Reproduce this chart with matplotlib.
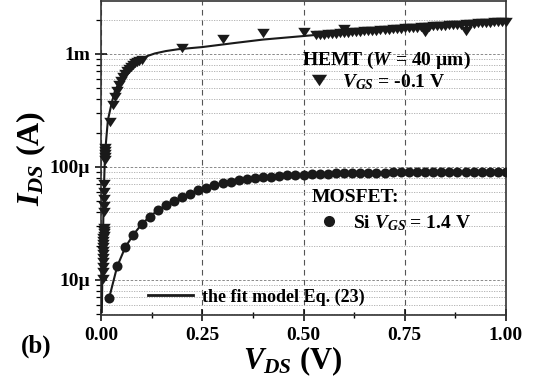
import matplotlib
matplotlib.use("Agg")
import matplotlib.pyplot as plt
from matplotlib.ticker import FixedLocator, FixedFormatter, MultipleLocator, LogLocator, NullFormatter
from matplotlib.lines import Line2D

plt.rcParams['font.family'] = ['Liberation Serif', 'DejaVu Serif']
plt.rcParams['font.weight'] = 'bold'
plt.rcParams['mathtext.fontset'] = 'custom'
plt.rcParams['mathtext.it'] = 'Liberation Serif:italic:bold'
plt.rcParams['mathtext.rm'] = 'Liberation Serif:bold'
plt.rcParams['mathtext.bf'] = 'Liberation Serif:bold'

# ---------------- data ----------------
# HEMT measured points (V, A)
hemt_v = [0.0040, 0.0042, 0.0044, 0.0046, 0.0048, 0.0050, 0.0052, 0.0054, 0.0056, 0.0058,
          0.0060, 0.0062, 0.0064, 0.0066, 0.0068, 0.0070, 0.0072, 0.0075, 0.0078, 0.0080,
          0.0090, 0.0093, 0.0096, 0.0100, 0.0104,
          0.022, 0.030, 0.035, 0.040, 0.045, 0.050, 0.055, 0.060, 0.065, 0.070,
          0.075, 0.080, 0.085, 0.090, 0.095, 0.100,
          0.20, 0.30, 0.40, 0.50,
          0.53, 0.54, 0.55, 0.56, 0.57, 0.58, 0.59, 0.60, 0.61, 0.62, 0.63, 0.64,
          0.65, 0.66, 0.67, 0.68, 0.69, 0.70, 0.71, 0.72, 0.73, 0.74, 0.75, 0.76,
          0.77, 0.78, 0.79, 0.80, 0.81, 0.82, 0.83, 0.84, 0.85, 0.86, 0.87, 0.88,
          0.89, 0.90, 0.91, 0.92, 0.93, 0.94, 0.95, 0.96, 0.97, 0.98, 0.99, 1.00,
          0.60, 0.80, 0.90]
hemt_i = [10.2e-6, 11.8e-6, 13.0e-6, 14.3e-6, 15.6e-6, 16.9e-6, 18.2e-6, 19.5e-6, 20.8e-6, 22.1e-6,
          23.4e-6, 24.7e-6, 26.0e-6, 27.3e-6, 28.6e-6, 40e-6, 45e-6, 52e-6, 60e-6, 70e-6,
          115e-6, 122e-6, 130e-6, 138e-6, 146e-6,
          250e-6, 355e-6, 420e-6, 470e-6, 530e-6, 580e-6, 620e-6, 660e-6, 700e-6, 730e-6,
          770e-6, 800e-6, 830e-6, 850e-6, 870e-6, 890e-6,
          1.13e-3, 1.36e-3, 1.53e-3, 1.57e-3,
          1.46e-3, 1.47e-3, 1.48e-3, 1.49e-3, 1.50e-3, 1.51e-3, 1.52e-3, 1.53e-3, 1.54e-3, 1.55e-3, 1.56e-3, 1.57e-3,
          1.58e-3, 1.59e-3, 1.60e-3, 1.61e-3, 1.62e-3, 1.63e-3, 1.64e-3, 1.65e-3, 1.66e-3, 1.67e-3, 1.68e-3, 1.69e-3,
          1.70e-3, 1.71e-3, 1.72e-3, 1.73e-3, 1.74e-3, 1.75e-3, 1.76e-3, 1.77e-3, 1.78e-3, 1.79e-3, 1.80e-3, 1.81e-3,
          1.82e-3, 1.83e-3, 1.84e-3, 1.85e-3, 1.86e-3, 1.87e-3, 1.88e-3, 1.89e-3, 1.90e-3, 1.91e-3, 1.92e-3, 1.93e-3,
          1.66e-3, 1.57e-3, 1.58e-3]

# HEMT fit model curve
fit_v = [0.002, 0.004, 0.006, 0.008, 0.010, 0.017, 0.027, 0.035, 0.052, 0.077,
         0.100, 0.115, 0.133, 0.160, 0.190, 0.250, 0.330, 0.400, 0.500, 0.600, 0.700,
         0.800, 0.900, 1.000]
fit_i = [5.2e-6, 15e-6, 40e-6, 80e-6, 133e-6, 260e-6, 376e-6, 478e-6, 625e-6, 800e-6,
         0.90e-3, 0.96e-3, 1.01e-3, 1.06e-3, 1.10e-3, 1.15e-3, 1.25e-3, 1.34e-3, 1.44e-3, 1.55e-3, 1.67e-3,
         1.78e-3, 1.90e-3, 2.02e-3]

# MOSFET measured points
mos_v = [0.02, 0.04, 0.06, 0.08, 0.10, 0.12, 0.14, 0.16, 0.18, 0.20,
         0.22, 0.24, 0.26, 0.28, 0.30, 0.32, 0.34, 0.36, 0.38, 0.40,
         0.42, 0.44, 0.46, 0.48, 0.50, 0.52, 0.54, 0.56, 0.58, 0.60,
         0.62, 0.64, 0.66, 0.68, 0.70, 0.72, 0.74, 0.76, 0.78, 0.80,
         0.82, 0.84, 0.86, 0.88, 0.90, 0.92, 0.94, 0.96, 0.98, 1.00]
mos_i_uA = [6.9, 13.2, 19.5, 25.2, 31.0, 36.3, 41.2, 45.8, 50.0, 54.0,
            57.8, 62.5, 65.8, 68.8, 71.5, 74.0, 76.2, 78.0, 79.6, 81.0,
            82.2, 83.2, 84.1, 84.9, 85.6, 86.2, 86.7, 87.2, 87.6, 88.0,
            88.3, 88.6, 88.9, 89.1, 89.3, 89.5, 89.7, 89.8, 90.0, 90.1,
            90.2, 90.3, 90.4, 90.5, 90.6, 90.7, 90.8, 90.9, 91.0, 91.1]
mos_i = [v * 1e-6 for v in mos_i_uA]

y_major = [1e-5, 1e-4, 1e-3]
y_major_labels = ['10\u00b5', '100\u00b5', '1m']
x_major = [0.00, 0.25, 0.50, 0.75, 1.00]
x_major_labels = ['0.00', '0.25', '0.50', '0.75', '1.00']

# ---------------- figure ----------------
W, H = 543, 379
fig = plt.figure(figsize=(W / 100, H / 100), dpi=100)
ax = fig.add_axes([101 / W, 1 - 315 / H, 405 / W, 314 / H])
ink = '#1a1a1a'
tri = [(-1, 0.75), (1, 0.75), (0, -0.75)]

ax.set_yscale('log')
ax.set_xlim(0, 1.0)
ax.set_ylim(4.9e-6, 2.94e-3)

ax.yaxis.set_major_locator(FixedLocator(y_major))
ax.yaxis.set_major_formatter(FixedFormatter(y_major_labels))
ax.yaxis.set_minor_locator(LogLocator(base=10, subs=range(2, 10)))
ax.yaxis.set_minor_formatter(NullFormatter())
ax.xaxis.set_major_locator(FixedLocator(x_major))
ax.xaxis.set_major_formatter(FixedFormatter(x_major_labels))
ax.xaxis.set_minor_locator(MultipleLocator(0.125))

ax.grid(True, which='major', axis='x', color='#555555', linestyle=(0, (5, 4)), linewidth=0.8)
ax.grid(True, which='major', axis='y', color='#777777', linestyle=(0, (3, 2)), linewidth=0.6)
ax.grid(True, which='minor', axis='y', color='#aaaaaa', linestyle=(0, (1.5, 1.5)), linewidth=0.6)
ax.set_axisbelow(True)

# data
ax.plot(fit_v, fit_i, '-', color=ink, lw=1.5, zorder=3)
ax.plot(hemt_v, hemt_i, linestyle='none', marker=tri, ms=9, color=ink, mew=0, zorder=4, clip_on=False)
ax.plot(mos_v, mos_i, '-', color=ink, lw=1.5, zorder=3)
ax.plot(mos_v, mos_i, linestyle='none', marker='o', ms=7.2, color=ink, mew=0, zorder=4)

# ticks
for s in ax.spines.values():
    s.set_linewidth(1.2)
    s.set_color('#333333')
ax.tick_params(axis='x', which='major', direction='inout', length=8, width=1.1, labelsize=14, pad=5)
ax.tick_params(axis='x', which='minor', direction='inout', length=5, width=1.0)
ax.tick_params(axis='y', which='major', direction='inout', length=8, width=1.1, labelsize=14, pad=4)
ax.tick_params(axis='y', which='minor', direction='out', length=3.5, width=0.9)
for lab in ax.get_xticklabels() + ax.get_yticklabels():
    lab.set_fontweight('bold')

ax.set_xlabel(r'$V_{DS}$ (V)', fontsize=22, fontweight='bold')
ax.xaxis.set_label_coords(0.474, -0.095)
ax.xaxis.label.set_va('top')
ax.set_ylabel(r'$I_{DS}$ (A)', fontsize=23, fontweight='bold', labelpad=1)

fig.text(36 / W, 1 - 346 / H, '(b)', fontsize=18, fontweight='bold', ha='center', va='center')

# legends
h_hemt = Line2D([], [], linestyle='none', marker=tri, ms=11, color=ink, mew=0)
leg1 = ax.legend([h_hemt], [r'$V_{GS}$ = -0.1 V'], title='HEMT ($W$ = 40 \u00b5m)',
                 loc='upper left', bbox_to_anchor=(302 / W, 1 - 50 / H), bbox_transform=fig.transFigure,
                 frameon=False, borderpad=0, borderaxespad=0, handlelength=1.7, handletextpad=0.35,
                 labelspacing=0.05,
                 prop={'size': 14, 'weight': 'bold'}, title_fontproperties={'size': 14, 'weight': 'bold'},
                 alignment='left')
ax.add_artist(leg1)

h_mos = Line2D([], [], linestyle='none', marker='o', ms=8, color=ink, mew=0)
leg2 = ax.legend([h_mos], [r'Si $V_{GS}$ = 1.4 V'], title='MOSFET:',
                 loc='upper left', bbox_to_anchor=(312 / W, 1 - 189 / H), bbox_transform=fig.transFigure,
                 frameon=False, borderpad=0, borderaxespad=0, handlelength=1.7, handletextpad=0.4,
                 labelspacing=0.35,
                 prop={'size': 14, 'weight': 'bold'}, title_fontproperties={'size': 14, 'weight': 'bold'},
                 alignment='left')
ax.add_artist(leg2)

h_fit = Line2D([], [], color=ink, lw=2)
leg3 = ax.legend([h_fit], ['the fit model Eq. (23)'],
                 loc='center left', bbox_to_anchor=(148 / W, 1 - 297 / H), bbox_transform=fig.transFigure,
                 frameon=False, borderpad=0, borderaxespad=0, handlelength=2.5, handletextpad=0.5,
                 prop={'size': 13, 'weight': 'bold'})

fig.savefig('out.png', dpi=100)
